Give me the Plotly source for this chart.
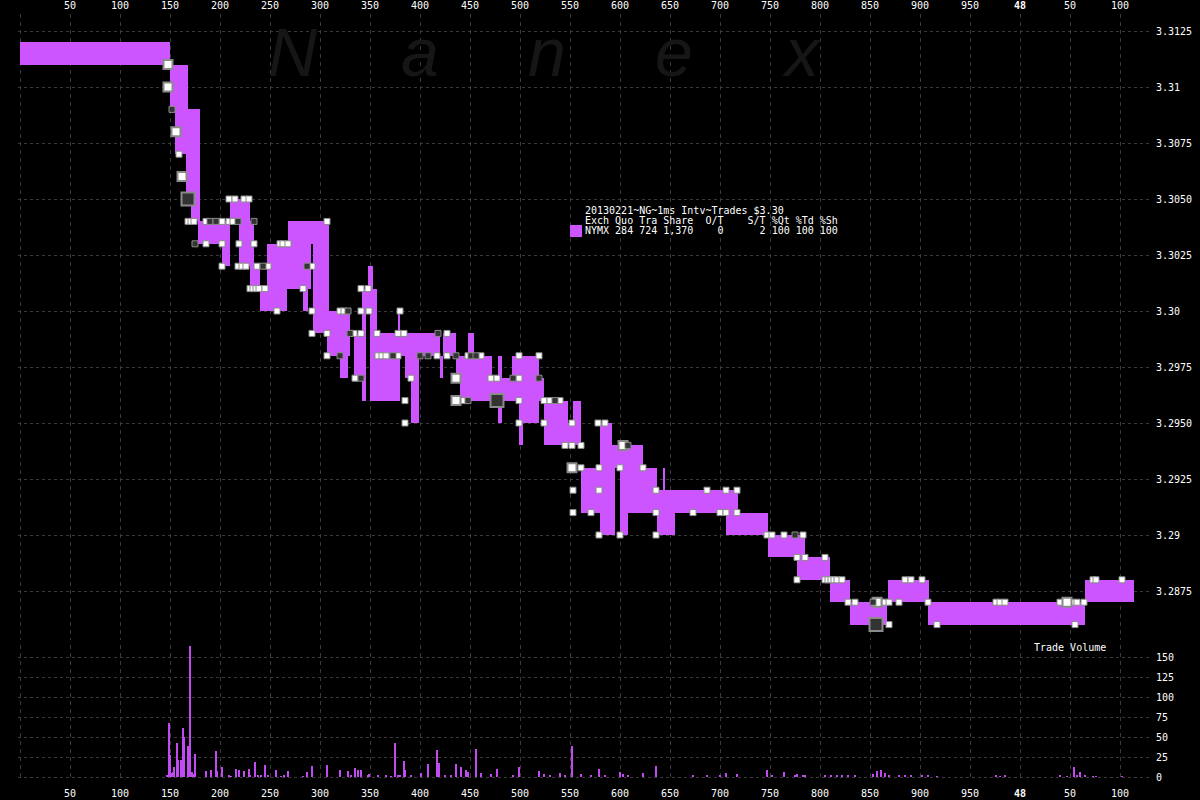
import plotly.graph_objects as go

# ---------------- data ----------------
# bid/ask quote spans (ms from start of interval)
seg_start = [0, 150, 155, 166, 171, 178, 202, 210, 219, 230, 240, 247, 283, 268, 293, 293, 307, 320,
             334, 342, 342, 348, 350, 357, 378, 378, 385, 391, 420, 423, 448, 436, 440, 478, 492, 499,
             499, 524, 548, 553, 561, 580, 580, 580, 600, 600, 643, 637, 620, 706, 748, 777, 810, 830,
             868, 908, 1065]
seg_end = [150, 168, 180, 180, 180, 210, 210, 230, 234, 240, 267, 291, 288, 309, 309, 330, 330, 328,
           346, 346, 357, 353, 357, 380, 380, 420, 399, 399, 423, 436, 454, 472, 524, 482, 519, 519,
           503, 548, 561, 561, 595, 592, 623, 595, 637, 608, 645, 655, 718, 748, 785, 810, 830, 867,
           909, 1065, 1114]
seg_bid = [3.311, 3.309, 3.307, 3.305, 3.304, 3.303, 3.302, 3.304, 3.302, 3.301, 3.300, 3.301, 3.300,
           3.303, 3.299, 3.299, 3.298, 3.297, 3.297, 3.296, 3.300, 3.301, 3.296, 3.296, 3.299, 3.298,
           3.297, 3.295, 3.297, 3.298, 3.298, 3.297, 3.296, 3.295, 3.297, 3.295, 3.294, 3.294, 3.294,
           3.295, 3.291, 3.294, 3.293, 3.290, 3.291, 3.290, 3.292, 3.290, 3.291, 3.290, 3.289, 3.288,
           3.287, 3.286, 3.287, 3.286, 3.287]
seg_ask = [3.312, 3.311, 3.309, 3.307, 3.305, 3.304, 3.303, 3.305, 3.304, 3.302, 3.301, 3.303, 3.301,
           3.304, 3.303, 3.300, 3.299, 3.298, 3.299, 3.301, 3.301, 3.302, 3.300, 3.299, 3.300, 3.299,
           3.298, 3.297, 3.298, 3.299, 3.299, 3.298, 3.297, 3.298, 3.298, 3.296, 3.295, 3.296, 3.295,
           3.296, 3.293, 3.295, 3.294, 3.291, 3.293, 3.291, 3.293, 3.291, 3.292, 3.291, 3.290, 3.289,
           3.288, 3.287, 3.288, 3.287, 3.288]

# trades: time (ms), price, kind (0 white, 1 dark, 2 big white, 3 big dark)
trade_t = [148, 148, 152, 156, 159, 162, 168, 168, 171, 174, 175, 186, 186, 190, 196, 202, 202, 202,
           209, 215, 224, 229, 209, 213, 218, 219, 234, 234, 218, 222, 226, 237, 243, 248,
           230, 233, 236, 239, 245, 257, 260, 263, 268, 287, 292, 283, 307,
           292, 320, 324, 328, 341, 349, 380, 292, 307, 330, 334, 341, 357, 378, 384, 418, 427,
           307, 320, 358, 362, 366, 373, 378, 400, 408, 417, 335, 341, 391, 341, 348, 385, 385,
           427, 436, 448, 451, 456, 461, 499, 519, 436, 471, 477, 493, 499, 519,
           436, 443, 448, 477, 499, 524, 530, 535, 540, 499, 524, 552, 545, 552, 561, 578, 585,
           603, 608, 552, 561, 579, 600, 623, 553, 579, 636, 553, 571, 636, 579, 600, 636,
           687, 706, 717, 673, 700, 706, 717, 747, 752, 764, 775, 783, 777, 785, 805,
           777, 805, 808, 811, 814, 817, 822, 828, 835, 853, 857, 861, 865, 869, 879, 856, 869,
           885, 891, 902, 908, 976, 980, 985, 1040, 1047, 1052, 1057, 1064, 917, 1055, 1073, 1076, 1102]
trade_px = [3.311, 3.310, 3.309, 3.308, 3.307, 3.306, 3.305, 3.304, 3.304, 3.304, 3.303, 3.303, 3.304,
            3.304, 3.304, 3.304, 3.303, 3.302,
            3.305, 3.305, 3.305, 3.305, 3.304, 3.304, 3.304, 3.303, 3.303, 3.304, 3.302, 3.302, 3.302,
            3.302, 3.302, 3.302,
            3.301, 3.301, 3.301, 3.301, 3.301, 3.300, 3.303, 3.303, 3.303, 3.302, 3.302, 3.301, 3.304,
            3.300, 3.300, 3.300, 3.300, 3.300, 3.300, 3.300, 3.299, 3.299, 3.299, 3.299, 3.299, 3.299,
            3.299, 3.299, 3.299, 3.299,
            3.298, 3.298, 3.298, 3.298, 3.298, 3.298, 3.298, 3.298, 3.298, 3.298, 3.297, 3.297, 3.297,
            3.301, 3.301, 3.296, 3.295,
            3.298, 3.298, 3.298, 3.298, 3.298, 3.298, 3.298, 3.298, 3.297, 3.297, 3.297, 3.297, 3.297,
            3.297,
            3.296, 3.296, 3.296, 3.296, 3.296, 3.296, 3.296, 3.296, 3.296, 3.295, 3.295, 3.295, 3.294,
            3.294, 3.294, 3.295, 3.295,
            3.294, 3.294, 3.293, 3.293, 3.293, 3.293, 3.293, 3.292, 3.292, 3.292, 3.291, 3.291, 3.291,
            3.290, 3.290, 3.290,
            3.292, 3.292, 3.292, 3.291, 3.291, 3.291, 3.291, 3.290, 3.290, 3.290, 3.290, 3.290, 3.289,
            3.289, 3.289,
            3.288, 3.288, 3.288, 3.288, 3.288, 3.288, 3.288, 3.287, 3.287, 3.287, 3.287, 3.287, 3.287,
            3.287, 3.287, 3.286, 3.286,
            3.288, 3.288, 3.288, 3.287, 3.287, 3.287, 3.287, 3.287, 3.287, 3.287, 3.287, 3.287, 3.286,
            3.286, 3.288, 3.288, 3.288]
trade_kind = [2, 2, 1, 2, 0, 2, 3, 0, 0, 0, 1, 0, 0, 1, 1, 0, 0, 0,
              0, 0, 0, 0, 0, 0, 1, 0, 0, 1, 0, 0, 0, 0, 1, 0,
              0, 0, 0, 0, 0, 0, 0, 0, 0, 1, 0, 0, 0,
              0, 0, 0, 1, 0, 0, 0, 0, 0, 1, 0, 0, 0, 0, 0, 1, 0,
              0, 1, 0, 0, 0, 1, 0, 1, 1, 0, 0, 1, 0, 0, 0, 0, 0,
              0, 1, 0, 1, 1, 0, 0, 0, 2, 0, 0, 1, 0, 1,
              2, 0, 1, 3, 0, 0, 0, 1, 0, 0, 0, 0, 0, 0, 0, 0, 0,
              2, 1, 2, 0, 0, 0, 0, 0, 0, 0, 0, 0, 0, 0, 0, 0,
              0, 0, 0, 0, 0, 0, 0, 0, 0, 0, 1, 0, 0, 0, 0,
              0, 0, 0, 0, 0, 0, 0, 0, 0, 1, 2, 0, 0, 0, 0, 3, 0,
              0, 0, 0, 0, 0, 0, 0, 0, 2, 0, 0, 0, 0, 0, 0, 0, 0]

# trade volume per ms
vol_t = [147, 149, 150, 152, 153, 154, 157, 158, 161, 163, 164, 168, 170, 172, 174, 175, 186, 191, 196,
         197, 202, 209, 211, 216, 219, 224, 229, 230, 235, 238, 241, 245, 248, 256, 261, 264, 268, 283,
         287, 292, 307, 320, 328, 331, 335, 338, 341, 348, 349, 358, 366, 371, 375, 378, 380, 384, 385,
         391, 401, 408, 417, 419, 425, 431, 436, 441, 446, 448, 456, 461, 471, 477, 493, 499, 519, 524,
         530, 540, 545, 552, 561, 571, 579, 585, 600, 603, 608, 623, 636, 673, 687, 700, 706, 717, 747,
         752, 764, 775, 777, 783, 785, 805, 811, 817, 822, 828, 835, 853, 857, 861, 865, 869, 879, 885,
         891, 902, 908, 917, 976, 980, 985, 1040, 1047, 1054, 1057, 1060, 1065, 1073, 1076, 1102]
vol_v = [2, 68, 28, 5, 6, 13, 42, 21, 21, 61, 50, 39, 164, 6, 4, 29, 8, 9, 32,
         8, 13, 2, 1, 10, 9, 8, 10, 2, 19, 3, 2, 15, 2, 9, 1, 2, 8, 1,
         6, 14, 15, 9, 8, 3, 11, 9, 9, 2, 4, 3, 3, 1, 42, 2, 3, 20, 9,
         3, 5, 16, 34, 18, 3, 2, 16, 12, 9, 6, 35, 5, 4, 10, 3, 12, 8, 4,
         3, 5, 3, 39, 4, 3, 10, 3, 6, 4, 3, 5, 14, 2, 3, 3, 5, 4, 9,
         3, 6, 3, 4, 2, 3, 2, 2, 3, 2, 3, 2, 4, 8, 9, 5, 3, 2, 2,
         3, 2, 2, 1, 2, 1, 2, 2, 1, 13, 3, 6, 3, 1, 1, 1]

x_tick_vals = [0, 50, 100, 150, 200, 250, 300, 350, 400, 450, 500, 550, 600, 650, 700, 750, 800, 850,
               900, 950, 1000, 1050, 1100]
x_tick_text = ["", "50", "100", "150", "200", "250", "300", "350", "400", "450", "500", "550", "600",
               "650", "700", "750", "800", "850", "900", "950", "<b>48</b>", "50", "100"]
price_ticks = [3.3125, 3.31, 3.3075, 3.305, 3.3025, 3.30, 3.2975, 3.295, 3.2925, 3.29, 3.2875]
price_tick_text = ["3.3125", "3.31", "3.3075", "3.3050", "3.3025", "3.30", "3.2975", "3.2950",
                   "3.2925", "3.29", "3.2875"]
vol_ticks = [0, 25, 50, 75, 100, 125, 150]

legend_lines = ["20130221~NG~1ms Intv~Trades $3.30",
                "Exch Quo Tra Share  O/T    S/T %Qt %Td %Sh",
                "NYMX 284 724 1,370    0      2 100 100 100"]
watermark = ["N", "a", "n", "e", "x"]

# ---------------- styling ----------------
PURPLE = "#CC55FF"
GRID = "#3a3a3a"
FONT = "DejaVu Sans Mono"
W, H = 1200, 800
ML, MR, MT, MB = 18, 48, 14, 20
PW, PH = W - ML - MR, H - MT - MB


def px(xpage):
    return (xpage - ML) / PW


def py(ypage):
    return (H - MB - ypage) / PH


fig = go.Figure()

# bid/ask bands
fig.add_trace(go.Bar(
    x=[(a + b) / 2 for a, b in zip(seg_start, seg_end)],
    width=[b - a for a, b in zip(seg_start, seg_end)],
    base=seg_bid,
    y=[a - b for a, b in zip(seg_ask, seg_bid)],
    marker=dict(color=PURPLE, line=dict(width=0)),
    xaxis="x", yaxis="y", showlegend=False, hoverinfo="skip"))

# trades
styles = {
    0: dict(size=6, color="#ffffff", line=dict(color="#8a8a8a", width=1)),
    1: dict(size=6, color="#333333", line=dict(color="#8a8a8a", width=1)),
    2: dict(size=9, color="#ffffff", line=dict(color="#8a8a8a", width=2)),
    3: dict(size=13, color="#333333", line=dict(color="#8a8a8a", width=2)),
}
for k in [0, 2, 1, 3]:
    xs = [t for t, kk in zip(trade_t, trade_kind) if kk == k]
    ys = [p for p, kk in zip(trade_px, trade_kind) if kk == k]
    fig.add_trace(go.Scatter(x=xs, y=ys, mode="markers",
                             marker=dict(symbol="square", **styles[k]),
                             xaxis="x", yaxis="y", showlegend=False, hoverinfo="skip"))

# volume
fig.add_trace(go.Bar(x=vol_t, y=vol_v, width=1.3,
                     marker=dict(color="#C24AF2", line=dict(width=0)),
                     xaxis="x2", yaxis="y2", showlegend=False, hoverinfo="skip"))

# axis ranges (pixel geometry: price 3.3125 at y=31, 22.4 px per 0.001; volume 0 at y=777, 0.8 px/unit)
p_top = 3.3125 + (31 - MT) / 22400
p_bot = 3.3125 - (640 - 31) / 22400
v_top = (777 - 645) / 0.8
v_bot = (777 - (H - MB)) / 0.8

axis_font = dict(family=FONT, size=10, color="#ffffff")
xcommon = dict(range=[-2, 1132], tickmode="array", tickvals=x_tick_vals, ticktext=x_tick_text,
               showgrid=True, gridcolor=GRID, griddash="4px,4px", gridwidth=1, automargin=False,
               zeroline=False, showline=False, ticks="", tickfont=axis_font)
ycommon = dict(side="right", tickmode="array", showgrid=True, gridcolor=GRID, griddash="3px,3px",
               zeroline=False, showline=False, ticks="", tickfont=axis_font, automargin=False,
               ticklabelstandoff=3)

fig.update_layout(
    width=W, height=H,
    paper_bgcolor="#000000", plot_bgcolor="#000000",
    margin=dict(l=ML, r=MR, t=MT, b=MB, autoexpand=False),
    barmode="overlay",
    bargap=0,
    xaxis=dict(domain=[0, 1], anchor="y", side="top", ticklabelstandoff=2, **xcommon),
    xaxis2=dict(domain=[0, 1], anchor="y2", matches="x", side="bottom", ticklabelstandoff=6, **xcommon),
    yaxis=dict(domain=[py(640), 1], anchor="x", range=[p_bot, p_top],
               tickvals=price_ticks, ticktext=price_tick_text, **ycommon),
    yaxis2=dict(domain=[0, py(645)], anchor="x2", range=[v_bot, v_top],
                tickvals=vol_ticks, **ycommon),
)

# watermark
for i, ch in enumerate(watermark):
    fig.add_annotation(text="<i>" + ch + "</i>", xref="paper", yref="paper", x=px(293 + 127 * i), y=py(52),
                       xanchor="center", yanchor="middle", showarrow=False,
                       font=dict(family="Liberation Sans", size=68, color="#161616"))

# legend block
for i, line in enumerate(legend_lines):
    fig.add_annotation(text=line.replace(" ", "\u00a0"), xref="paper", yref="paper",
                       x=px(583), y=py(210.5 + 9.8 * i), xanchor="left", yanchor="middle",
                       showarrow=False, font=dict(family=FONT, size=10, color="#ffffff"))
fig.add_shape(type="rect", xref="paper", yref="paper", x0=px(570), x1=px(582), y0=py(237), y1=py(225),
              fillcolor=PURPLE, line=dict(width=0))

fig.add_annotation(text="Trade\u00a0Volume", xref="paper", yref="paper", x=px(1032), y=py(647),
                   xanchor="left", yanchor="middle", showarrow=False,
                   font=dict(family=FONT, size=10, color="#ffffff"))

# the page's default body margin would shift the 1200x800 figure; remove it
fig.write_html("out.html", config={"displayModeBar": False},
               post_script="document.body.style.margin='0px';")
